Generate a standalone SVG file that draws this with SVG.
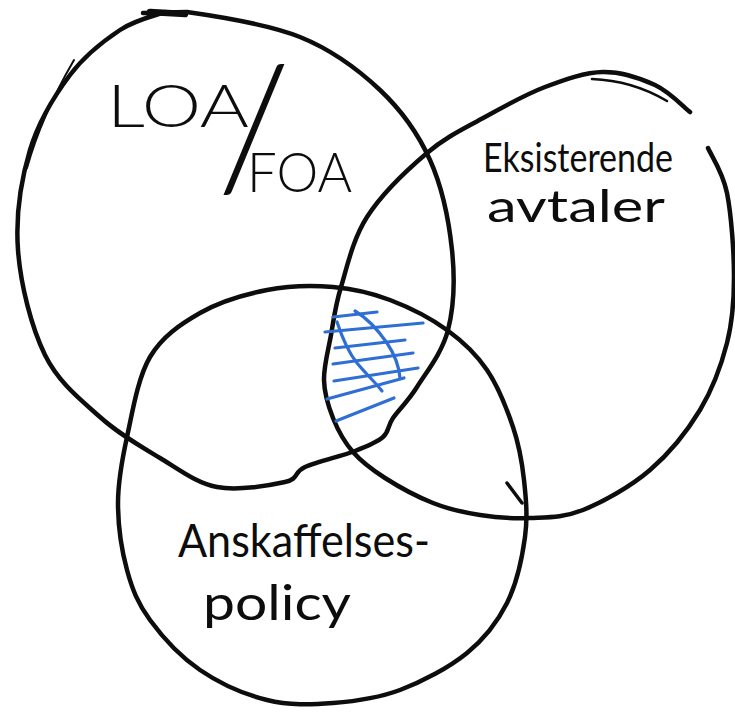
<svg xmlns="http://www.w3.org/2000/svg" width="735" height="714" viewBox="0 0 735 714">
<style>
.ring{fill:none;stroke:#0d0d0d;stroke-width:4.5;stroke-linecap:round;stroke-linejoin:round}
.thin{fill:none;stroke:#0d0d0d;stroke-width:2;stroke-linecap:round}
.hatch{fill:none;stroke:#2f6fd3;stroke-width:3.2;stroke-linecap:round;stroke-linejoin:round}
.lbl{font-family:"Lato","DejaVu Sans","Liberation Sans",sans-serif;fill:#0d0d0d;font-weight:300}
.lbl2{font-family:"Lato","DejaVu Sans","Liberation Sans",sans-serif;fill:#0d0d0d;font-weight:400}
</style>
<rect width="735" height="714" fill="#ffffff"/>
<g id="node-loa-foa">
<path class="ring" d="M 143,13 L 187,12 C 213.7,15.8 267.8,24 300,37 C 332.2,50 358.3,69.5 380,90 C 401.7,110.5 418,133.3 430,160 C 442,186.7 449,221.7 452,250 C 455,278.3 453.8,307.2 448,330 C 442.2,352.8 426.2,372.3 417,387 C 407.8,401.7 398.7,409.7 393,418 C 387.3,426.3 389.3,431.5 383,437 C 376.7,442.5 368,446 355,451 C 342,456 316.7,461.8 305,467 C 293.3,472.2 299.7,478.7 285,482 C 270.3,485.3 237.8,491 217,487 C 196.2,483 179.5,469.7 160,458 C 140.5,446.3 119.2,434.2 100,417 C 80.8,399.8 58.7,382.8 45,355 C 31.3,327.2 20.5,284.2 18,250 C 15.5,215.8 21.3,179.2 30,150 C 38.7,120.8 55,95 70,75 C 85,55 104.2,40.5 120,30 C 135.8,19.5 157.5,15 165,12"/>
<path class="thin" d="M 27,168 C 37,132 52,98 74,60"/>
<path class="ring" style="stroke-width:6.5" d="M 150,12 L 185,14"/>
<text class="lbl"><tspan x="107" y="127" font-size="60" textLength="142" lengthAdjust="spacingAndGlyphs">LOA</tspan><tspan x="217" y="188" font-size="170" font-weight="300">/</tspan><tspan x="247" y="192" font-size="56" textLength="105" lengthAdjust="spacingAndGlyphs">FOA</tspan></text>
</g>
<g id="node-eksisterende-avtaler">
<path class="ring" d="M 708,148 C 711.2,155.5 722.7,171.5 727,193 C 731.3,214.5 734,252 734,277 C 734,302 732.7,320.8 727,343 C 721.3,365.2 712.8,388.8 700,410 C 687.2,431.2 669.5,453.3 650,470 C 630.5,486.7 603,502 583,510 C 563,518 547.2,517.2 530,518 C 512.8,518.8 496.2,517.5 480,515 C 463.8,512.5 448.8,509.2 433,503 C 417.2,496.8 398.3,486.5 385,478 C 371.7,469.5 361.7,462 353,452 C 344.3,442 337.8,430 333,418 C 328.2,406 324.3,393.8 324,380 C 323.7,366.2 328.2,350.5 331,335 C 333.8,319.5 335,306.7 341,287 C 347,267.3 352.7,239.3 367,217 C 381.3,194.7 407.3,169.7 427,153 C 446.7,136.3 465.3,128 485,117 C 504.7,106 525.3,94.5 545,87 C 564.7,79.5 584.7,72.3 603,72 C 621.3,71.7 640.5,78.3 655,85 C 669.5,91.7 684.2,107.5 690,112"/>
<path class="thin" style="stroke-width:2.6" d="M 592,79 C 620,80 645,88 667,101"/>
<text class="lbl2" x="483" y="172" font-size="40" textLength="190" lengthAdjust="spacingAndGlyphs">Eksisterende</text>
<text class="lbl2" x="487" y="222" font-size="44" textLength="178" lengthAdjust="spacingAndGlyphs">avtaler</text>
</g>
<g id="node-anskaffelsespolicy">
<path class="ring" d="M 333,287 C 353.5,288.7 371,292.8 390,300 C 409,307.2 430.8,318.3 447,330 C 463.2,341.7 476,353.8 487,370 C 498,386.2 506.8,408.7 513,427 C 519.2,445.3 522,461.7 524,480 C 526,498.3 527.8,516.5 525,537 C 522.2,557.5 516.7,583.7 507,603 C 497.3,622.3 484.8,638.5 467,653 C 449.2,667.5 422.3,681.7 400,690 C 377.7,698.3 355.2,701.3 333,703 C 310.8,704.7 289.2,705.5 267,700 C 244.8,694.5 219.5,683.3 200,670 C 180.5,656.7 162.2,636.7 150,620 C 137.8,603.3 132.3,589.5 127,570 C 121.7,550.5 118,525.2 118,503 C 118,480.8 121.7,461.3 127,437 C 132.3,412.7 137.8,377.7 150,357 C 162.2,336.3 180.5,324.2 200,313 C 219.5,301.8 244.8,294.3 267,290 C 289.2,285.7 312.5,285.3 333,287 Z"/>
<path class="ring" style="stroke-width:3.5" d="M 507,483 L 522,503"/>
<text class="lbl2" x="178" y="557" font-size="46" textLength="252" lengthAdjust="spacingAndGlyphs">Anskaffelses-</text>
<text class="lbl2" x="203" y="620" font-size="48" textLength="148" lengthAdjust="spacingAndGlyphs">policy</text>
</g>
<g id="overlap-hatch">
<path class="hatch" d="M 333,317 L 377,312"/>
<path class="hatch" d="M 325,332 L 423,323"/>
<path class="hatch" d="M 335,348 L 405,340"/>
<path class="hatch" d="M 333,364 L 413,353"/>
<path class="hatch" d="M 334,381 L 418,368"/>
<path class="hatch" d="M 327,399 L 404,378"/>
<path class="hatch" d="M 336,421 L 394,398"/>
<path class="hatch" d="M 337,322 C 342,337 348,352 357,363 C 366,374 375,382 382,391"/>
<path class="hatch" d="M 355,311 C 367,318 378,330 387,343 C 395,355 399,366 400,378"/>
</g>
</svg>
